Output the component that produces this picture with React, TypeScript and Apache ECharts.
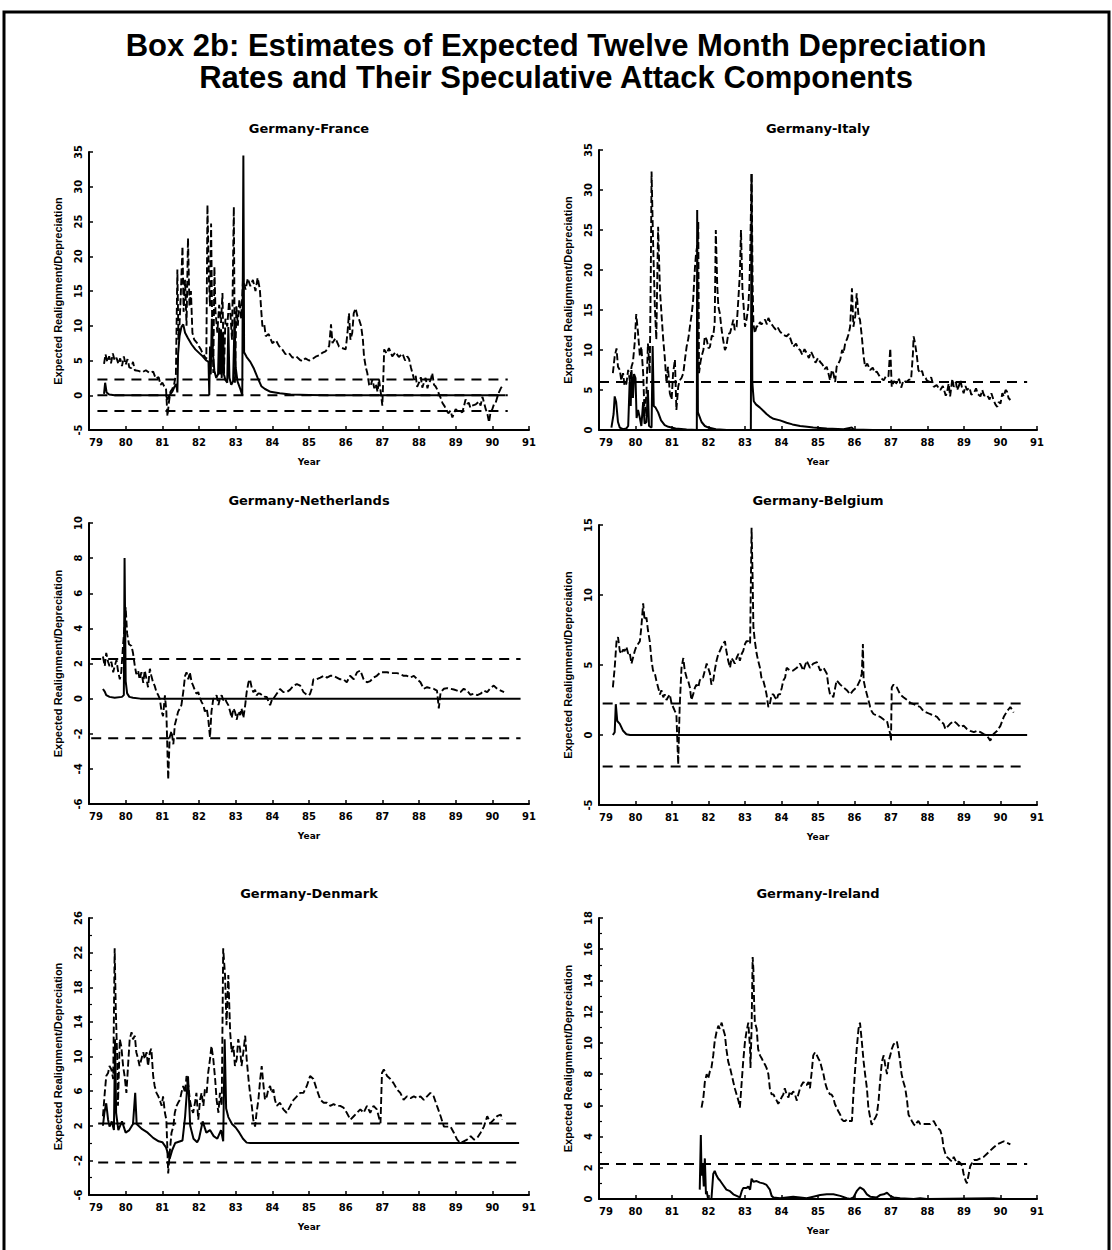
import React, { useEffect, useRef } from "react";
import * as echarts from "echarts";

// ---------- tick labels / categories ----------
const yearTicks = [79, 80, 81, 82, 83, 84, 85, 86, 87, 88, 89, 90, 91];
const panelTitles = ["Germany-France", "Germany-Italy", "Germany-Netherlands", "Germany-Belgium", "Germany-Denmark", "Germany-Ireland"];
const mainTitle = ["Box 2b: Estimates of Expected Twelve Month Depreciation", "Rates and Their Speculative Attack Components"];
const yName = "Expected Realignment/Depreciation";
const xName = "Year";

// ---------- France ----------
const franceExpected = [[79.41,4.5],[79.45,5.9],[79.5,4.8],[79.55,5.6],[79.6,4.6],[79.65,6.0],[79.7,5.0],[79.75,5.4],[79.8,4.5],[79.85,5.3],[79.9,4.2],[79.95,5.6],[80.0,4.4],[80.05,5.2],[80.1,4.0],[80.15,3.9],[80.2,4.8],[80.25,3.6],[80.35,3.5],[80.45,3.3],[80.55,3.6],[80.65,3.2],[80.75,3.4],[80.82,2.4],[80.9,2.6],[80.95,1.5],[81.0,1.8],[81.05,1.3],[81.1,1.0],[81.14,-3.0],[81.18,-1.0],[81.22,0.5],[81.27,0.9],[81.32,1.5],[81.37,3.0],[81.41,18.1],[81.44,8.0],[81.47,10.4],[81.5,14.0],[81.55,21.4],[81.58,12.0],[81.62,16.6],[81.66,10.0],[81.7,22.6],[81.74,12.8],[81.78,15.0],[81.82,9.0],[81.87,8.0],[81.95,7.5],[82.0,7.0],[82.05,6.6],[82.1,6.0],[82.15,5.6],[82.2,5.2],[82.23,27.4],[82.27,17.0],[82.3,12.8],[82.33,24.7],[82.36,10.0],[82.39,3.2],[82.42,18.5],[82.45,12.0],[82.5,9.0],[82.55,13.0],[82.6,10.4],[82.64,14.7],[82.68,3.2],[82.72,11.0],[82.77,9.9],[82.82,13.5],[82.86,11.4],[82.9,8.0],[82.95,27.1],[82.98,1.8],[83.02,12.8],[83.06,10.0],[83.1,13.8],[83.15,11.0],[83.2,16.6],[83.27,15.2],[83.33,16.8],[83.4,15.7],[83.47,16.6],[83.54,15.0],[83.6,16.9],[83.66,15.2],[83.7,12.0],[83.73,9.9],[83.78,10.2],[83.82,8.5],[83.9,8.8],[84.0,7.5],[84.1,7.9],[84.18,7.1],[84.27,6.6],[84.36,5.9],[84.45,6.1],[84.55,5.4],[84.65,5.6],[84.75,5.1],[84.82,4.9],[84.9,5.3],[85.0,5.0],[85.09,5.2],[85.2,5.6],[85.3,5.8],[85.36,6.1],[85.45,6.3],[85.55,7.1],[85.6,10.2],[85.64,7.5],[85.72,8.2],[85.82,7.0],[85.9,6.8],[86.0,6.6],[86.05,9.0],[86.09,11.8],[86.13,8.0],[86.18,9.0],[86.22,11.8],[86.27,12.5],[86.32,11.4],[86.36,11.0],[86.42,10.0],[86.47,8.0],[86.5,5.6],[86.55,4.0],[86.59,3.2],[86.64,1.5],[86.68,1.3],[86.73,2.3],[86.78,1.0],[86.82,1.6],[86.87,0.5],[86.91,2.3],[86.96,0.3],[87.0,-1.5],[87.03,3.0],[87.05,6.6],[87.12,6.0],[87.18,6.8],[87.27,5.6],[87.36,6.2],[87.45,5.5],[87.55,6.0],[87.62,5.0],[87.68,5.6],[87.73,5.2],[87.78,4.0],[87.82,3.2],[87.87,2.2],[87.91,2.8],[87.95,1.2],[88.0,1.8],[88.05,2.6],[88.09,1.1],[88.14,1.9],[88.18,2.5],[88.23,1.0],[88.27,1.8],[88.32,2.2],[88.36,3.2],[88.41,1.5],[88.45,1.3],[88.5,0.8],[88.55,0.1],[88.6,-0.5],[88.64,-1.1],[88.7,-1.6],[88.73,-2.0],[88.8,-2.6],[88.86,-2.2],[88.91,-3.2],[88.96,-2.5],[89.0,-2.0],[89.05,-2.3],[89.1,-2.1],[89.18,-2.5],[89.23,-1.5],[89.27,-0.6],[89.32,-1.2],[89.36,-1.1],[89.4,-1.8],[89.45,-1.5],[89.55,-1.3],[89.64,-0.9],[89.68,-1.5],[89.73,-0.2],[89.78,-1.2],[89.82,-2.0],[89.87,-2.8],[89.91,-3.9],[89.95,-2.5],[90.0,-2.0],[90.05,-1.2],[90.09,-1.1],[90.14,-0.2],[90.18,0.4],[90.23,1.0],[90.27,1.3]];
const franceAttack = [[79.41,0.2],[79.44,1.8],[79.48,0.4],[79.55,0.1],[79.7,0],[81.1,0],[81.14,-0.6],[81.2,0],[81.27,0.5],[81.33,1.2],[81.38,1.6],[81.41,0.4],[81.43,6.0],[81.47,8.5],[81.52,9.8],[81.57,10.2],[81.62,9.0],[81.7,8.2],[81.8,7.3],[81.9,6.6],[82.0,6.1],[82.1,5.6],[82.2,5.0],[82.26,4.8],[82.28,0],[82.3,7.0],[82.32,3.0],[82.35,11.0],[82.38,6.0],[82.42,3.5],[82.47,2.5],[82.52,3.0],[82.55,9.7],[82.57,3.0],[82.6,9.5],[82.62,2.5],[82.65,9.0],[82.68,3.0],[82.72,2.2],[82.77,1.8],[82.8,9.8],[82.83,2.5],[82.88,1.5],[82.93,2.0],[82.97,10.9],[83.0,4.0],[83.05,2.0],[83.12,1.0],[83.18,0],[83.21,34.5],[83.23,6.2],[83.3,5.5],[83.4,4.8],[83.5,3.8],[83.6,2.5],[83.7,1.3],[83.8,0.9],[83.95,0.5],[84.2,0.3],[84.5,0.1],[85.0,0.05],[85.5,0],[90.35,0]];
const franceBands = [2.25, 0, -2.25];
const franceBandSpan = [79.23, 90.42];

// ---------- Italy ----------
const italyExpected = [[79.38,7.1],[79.43,9.2],[79.48,10.2],[79.52,7.9],[79.57,7.5],[79.61,6.2],[79.66,7.1],[79.7,5.5],[79.75,5.8],[79.8,7.5],[79.85,6.0],[79.89,7.9],[79.93,8.5],[79.98,11.0],[80.02,14.5],[80.07,12.1],[80.12,9.2],[80.16,10.4],[80.21,7.1],[80.25,1.7],[80.3,4.6],[80.34,10.8],[80.39,7.1],[80.42,20.0],[80.44,32.3],[80.48,23.8],[80.53,15.4],[80.57,11.3],[80.62,25.4],[80.67,17.5],[80.71,14.6],[80.76,11.3],[80.8,9.2],[80.85,5.8],[80.89,7.9],[80.94,4.6],[80.99,3.8],[81.03,7.1],[81.08,8.8],[81.12,2.5],[81.17,5.4],[81.21,6.2],[81.26,6.5],[81.31,7.1],[81.36,9.0],[81.4,10.4],[81.45,11.5],[81.49,12.9],[81.54,14.5],[81.58,16.3],[81.63,20.4],[81.66,22.1],[81.7,23.3],[81.72,26.0],[81.74,7.1],[81.78,8.5],[81.81,9.2],[81.86,10.0],[81.9,11.7],[81.95,11.3],[82.0,10.2],[82.04,10.4],[82.09,11.8],[82.13,11.7],[82.17,13.5],[82.2,25.0],[82.24,18.0],[82.27,15.4],[82.31,14.6],[82.36,12.5],[82.4,11.3],[82.45,10.0],[82.49,10.4],[82.54,12.0],[82.59,12.1],[82.64,13.0],[82.68,13.8],[82.72,12.5],[82.77,12.9],[82.82,16.5],[82.86,19.6],[82.89,25.0],[82.93,17.5],[82.97,15.0],[83.0,12.9],[83.05,14.0],[83.09,15.4],[83.12,18.0],[83.14,21.3],[83.18,32.1],[83.21,18.0],[83.23,13.3],[83.27,12.1],[83.32,13.0],[83.36,12.9],[83.41,13.5],[83.45,13.2],[83.5,13.5],[83.55,13.8],[83.6,13.2],[83.64,14.0],[83.7,13.4],[83.78,12.9],[83.85,12.5],[83.9,12.8],[83.96,12.3],[84.05,11.9],[84.14,11.7],[84.2,12.0],[84.26,11.2],[84.32,10.4],[84.4,10.8],[84.45,10.2],[84.51,10.0],[84.57,9.4],[84.63,10.1],[84.69,9.6],[84.75,9.0],[84.81,9.8],[84.87,9.2],[84.93,8.4],[85.0,9.0],[85.06,8.5],[85.12,8.2],[85.18,7.6],[85.24,7.9],[85.3,6.8],[85.33,6.2],[85.38,7.5],[85.42,7.1],[85.47,6.0],[85.51,7.9],[85.56,8.3],[85.61,8.8],[85.66,10.0],[85.7,9.6],[85.75,11.0],[85.79,11.3],[85.84,12.0],[85.88,12.9],[85.93,17.7],[85.97,12.9],[86.02,14.2],[86.06,17.1],[86.11,14.2],[86.15,13.8],[86.2,11.7],[86.25,9.2],[86.29,7.9],[86.35,8.3],[86.43,7.5],[86.5,7.8],[86.55,7.2],[86.61,7.3],[86.7,6.6],[86.8,6.2],[86.87,6.8],[86.93,6.7],[86.98,10.2],[87.02,5.4],[87.08,6.1],[87.16,5.8],[87.22,6.4],[87.28,5.3],[87.34,6.2],[87.42,6.0],[87.5,6.3],[87.55,6.3],[87.6,9.5],[87.62,11.7],[87.66,10.8],[87.71,9.2],[87.75,7.5],[87.8,7.1],[87.85,7.4],[87.89,6.7],[87.95,6.5],[87.98,6.2],[88.05,6.0],[88.1,6.6],[88.17,5.4],[88.25,5.6],[88.35,5.0],[88.42,5.5],[88.5,4.3],[88.53,4.6],[88.58,5.8],[88.62,4.2],[88.68,6.4],[88.72,5.4],[88.78,6.0],[88.81,5.0],[88.86,5.5],[88.9,6.2],[88.95,5.2],[88.99,4.6],[89.04,5.5],[89.08,5.0],[89.15,5.3],[89.2,4.4],[89.27,4.6],[89.33,5.2],[89.38,4.5],[89.45,4.2],[89.5,5.0],[89.55,4.3],[89.63,4.4],[89.7,3.8],[89.75,4.6],[89.81,3.75],[89.86,3.2],[89.91,2.9],[89.95,3.5],[90.0,3.3],[90.05,4.6],[90.09,4.2],[90.14,5.0],[90.18,4.8],[90.22,4.0],[90.27,3.75]];
const italyAttack = [[79.34,0.3],[79.4,2.0],[79.43,4.2],[79.47,3.5],[79.52,1.0],[79.57,0.3],[79.66,0.1],[79.75,0.2],[79.8,0.5],[79.84,6.0],[79.87,3.0],[79.89,7.5],[79.93,4.0],[79.96,7.0],[80.0,6.5],[80.03,1.5],[80.07,2.5],[80.12,1.5],[80.16,0.5],[80.21,3.5],[80.25,0.8],[80.3,1.0],[80.34,5.0],[80.37,0.5],[80.44,0.3],[80.47,10.5],[80.5,3.0],[80.55,2.8],[80.62,2.2],[80.7,1.2],[80.8,0.6],[80.9,0.4],[81.1,0.2],[81.4,0.05],[81.68,0],[81.69,27.5],[81.71,2.2],[81.76,1.6],[81.81,1.0],[81.9,0.5],[82.0,0.3],[82.2,0.1],[82.5,0],[83.16,0],[83.18,32.0],[83.2,6.0],[83.24,3.6],[83.3,3.2],[83.41,2.8],[83.5,2.4],[83.59,2.0],[83.7,1.6],[83.78,1.4],[83.96,1.2],[84.14,0.9],[84.3,0.7],[84.51,0.5],[84.7,0.4],[84.87,0.3],[85.24,0.2],[85.7,0.1],[85.93,0.3],[85.98,0.05],[86.5,0],[90.9,0]];
const italyBands = [6];
const italyBandSpan = [79.0, 90.73];

// ---------- Netherlands ----------
const netherlandsExpected = [[79.38,2.4],[79.43,1.85],[79.47,2.6],[79.52,2.1],[79.56,1.85],[79.61,2.1],[79.66,1.5],[79.7,1.85],[79.75,2.2],[79.79,1.6],[79.84,1.1],[79.88,1.5],[79.93,3.1],[79.97,4.1],[80.0,5.2],[80.04,3.7],[80.09,3.1],[80.16,3.0],[80.2,2.6],[80.25,1.85],[80.29,1.4],[80.34,1.6],[80.38,1.1],[80.43,1.5],[80.48,0.9],[80.52,1.6],[80.57,1.1],[80.61,0.65],[80.66,1.7],[80.7,1.3],[80.75,0.9],[80.79,0.74],[80.84,0.37],[80.89,0.19],[80.93,0],[80.98,-0.74],[81.02,-1.0],[81.07,0.19],[81.11,-0.74],[81.16,-4.6],[81.2,-2.2],[81.25,-1.85],[81.3,-2.6],[81.34,-1.5],[81.39,-1.1],[81.43,-0.74],[81.48,-0.56],[81.52,-0.37],[81.57,0.37],[81.62,1.3],[81.66,1.5],[81.71,1.1],[81.75,1.5],[81.8,0.93],[81.84,0.74],[81.89,0.46],[81.93,0.28],[81.98,0.37],[82.03,0],[82.07,-0.19],[82.12,-0.37],[82.16,-0.74],[82.21,-0.56],[82.25,-1.1],[82.3,-2.2],[82.34,-0.74],[82.39,0],[82.44,0.09],[82.48,0.19],[82.53,-0.37],[82.57,0],[82.62,0.19],[82.66,-0.09],[82.71,0],[82.75,-0.19],[82.8,-0.37],[82.85,-0.74],[82.89,-1.1],[82.94,-0.56],[82.98,-0.74],[83.03,-1.2],[83.07,-0.74],[83.12,-0.93],[83.16,-0.56],[83.21,-1.1],[83.26,-0.37],[83.3,0.37],[83.35,0.93],[83.39,1.1],[83.44,0.6],[83.48,0.37],[83.53,0.5],[83.57,0.19],[83.62,0.3],[83.67,0.28],[83.72,0.2],[83.76,0.19],[83.8,0.1],[83.85,0.09],[83.9,-0.2],[83.94,-0.37],[84.0,0],[84.03,0],[84.12,0.28],[84.21,0.55],[84.3,0.37],[84.39,0.37],[84.48,0.5],[84.58,0.74],[84.67,0.83],[84.76,0.74],[84.85,0.37],[84.94,0.22],[85.0,0.19],[85.03,0.28],[85.08,0.6],[85.12,1.1],[85.2,1.1],[85.31,1.2],[85.4,1.3],[85.49,1.2],[85.58,1.3],[85.67,1.3],[85.76,1.2],[85.85,1.1],[85.94,1.1],[86.03,0.93],[86.12,1.3],[86.22,1.1],[86.31,1.5],[86.4,1.6],[86.49,1.1],[86.58,0.93],[86.67,1.0],[86.76,1.2],[86.85,1.3],[86.95,1.5],[87.04,1.5],[87.13,1.5],[87.22,1.45],[87.31,1.45],[87.4,1.45],[87.49,1.4],[87.58,1.3],[87.67,1.3],[87.76,1.2],[87.86,1.3],[87.95,1.1],[88.04,0.93],[88.13,0.56],[88.22,0.65],[88.31,0.6],[88.4,0.56],[88.49,0.46],[88.54,-0.55],[88.59,0.37],[88.68,0.56],[88.77,0.6],[88.86,0.56],[88.95,0.52],[89.04,0.46],[89.13,0.37],[89.22,0.56],[89.31,0.46],[89.4,0.22],[89.5,0.28],[89.59,0.2],[89.68,0.28],[89.77,0.46],[89.86,0.37],[89.95,0.6],[90.04,0.74],[90.13,0.56],[90.23,0.46],[90.32,0.37]];
const netherlandsAttack = [[79.38,0.55],[79.43,0.4],[79.47,0.2],[79.56,0.1],[79.7,0.05],[79.9,0.1],[79.95,0.2],[79.97,8.0],[80.0,1.0],[80.04,0.3],[80.1,0.1],[80.2,0.05],[80.4,0],[90.77,0]];
const netherlandsBands = [2.25, -2.25];
const netherlandsBandSpan = [79.06, 90.77];

// ---------- Belgium ----------
const belgiumExpected = [[79.38,3.4],[79.43,4.8],[79.48,6.7],[79.52,7.0],[79.57,6.0],[79.61,5.8],[79.66,6.1],[79.7,6.0],[79.75,6.3],[79.8,5.8],[79.84,5.9],[79.89,5.1],[79.93,5.5],[79.98,6.0],[80.02,6.3],[80.07,6.5],[80.12,6.7],[80.16,7.7],[80.21,9.4],[80.25,8.2],[80.3,8.4],[80.34,7.5],[80.39,6.7],[80.44,5.3],[80.48,4.6],[80.53,4.4],[80.57,3.9],[80.62,3.4],[80.67,2.9],[80.71,3.2],[80.76,2.7],[80.8,2.9],[80.85,2.5],[80.89,2.7],[80.94,2.9],[80.99,2.2],[81.03,2.0],[81.08,1.7],[81.12,1.5],[81.17,-2.1],[81.21,2.0],[81.26,4.8],[81.31,5.5],[81.35,4.6],[81.4,4.1],[81.44,3.9],[81.49,3.4],[81.53,2.5],[81.58,2.9],[81.63,3.4],[81.67,3.6],[81.72,3.4],[81.76,3.9],[81.81,4.1],[81.85,4.1],[81.9,4.6],[81.95,5.1],[81.99,4.8],[82.04,4.4],[82.08,3.6],[82.13,3.9],[82.17,4.6],[82.22,5.3],[82.27,5.8],[82.31,6.0],[82.36,6.3],[82.4,6.5],[82.45,6.7],[82.49,6.0],[82.54,5.3],[82.59,4.8],[82.63,5.5],[82.68,5.3],[82.72,5.1],[82.77,5.5],[82.82,5.8],[82.86,5.3],[82.91,5.8],[82.95,6.0],[83.0,6.5],[83.04,6.7],[83.09,6.7],[83.14,6.5],[83.18,14.8],[83.21,11.0],[83.23,7.7],[83.27,6.7],[83.32,5.8],[83.36,5.3],[83.41,4.8],[83.45,4.1],[83.5,3.9],[83.55,3.4],[83.59,2.9],[83.64,2.0],[83.68,2.2],[83.73,2.9],[83.78,2.9],[83.82,2.7],[83.87,2.5],[83.91,2.9],[83.96,2.9],[84.01,3.4],[84.05,3.9],[84.1,4.1],[84.14,4.8],[84.23,4.6],[84.32,4.6],[84.42,4.8],[84.51,5.1],[84.6,4.6],[84.69,5.3],[84.78,4.8],[84.87,5.1],[84.97,5.2],[85.06,4.6],[85.15,4.8],[85.24,4.4],[85.29,3.4],[85.33,2.9],[85.38,2.9],[85.42,2.7],[85.51,3.9],[85.61,3.6],[85.7,3.4],[85.79,3.2],[85.88,2.9],[85.97,3.2],[86.06,3.4],[86.15,3.9],[86.2,4.4],[86.23,6.5],[86.25,3.9],[86.29,3.4],[86.34,2.9],[86.38,2.5],[86.43,2.0],[86.47,1.7],[86.52,1.5],[86.61,1.4],[86.7,1.3],[86.8,1.1],[86.89,1.0],[86.93,0.55],[86.98,0.07],[87.0,-0.4],[87.02,3.4],[87.07,3.6],[87.16,3.4],[87.25,2.9],[87.34,2.7],[87.44,2.5],[87.53,2.3],[87.62,2.2],[87.71,2.1],[87.8,2.0],[87.89,1.7],[87.98,1.6],[88.07,1.5],[88.17,1.4],[88.26,1.3],[88.35,1.0],[88.44,0.8],[88.49,0.43],[88.53,0.55],[88.62,0.8],[88.72,1.0],[88.81,0.8],[88.9,0.55],[88.99,0.67],[89.08,0.43],[89.17,0.3],[89.27,0.2],[89.36,0.3],[89.45,0.2],[89.54,0.07],[89.63,-0.05],[89.72,-0.4],[89.81,0.07],[89.91,0.3],[90.0,0.67],[90.09,1.3],[90.18,1.7],[90.27,2.0],[90.36,1.6]];
const belgiumAttack = [[79.38,0],[79.43,0.2],[79.46,2.2],[79.5,1.0],[79.57,0.8],[79.66,0.3],[79.75,0.05],[79.85,0],[90.73,0]];
const belgiumBands = [2.25, -2.25];
const belgiumBandSpan = [79.1, 90.73];

// ---------- Denmark ----------
const denmarkExpected = [[79.38,3.1],[79.43,5.8],[79.47,7.75],[79.52,8.1],[79.56,8.9],[79.61,8.5],[79.66,7.4],[79.7,22.5],[79.73,15.5],[79.77,9.7],[79.79,4.3],[79.84,12.0],[79.88,11.2],[79.93,8.9],[79.97,7.75],[80.02,5.8],[80.07,9.3],[80.11,12.0],[80.16,12.8],[80.2,12.0],[80.25,12.4],[80.29,10.5],[80.34,9.7],[80.38,8.9],[80.43,9.7],[80.48,10.5],[80.52,9.7],[80.57,10.5],[80.61,8.9],[80.66,10.5],[80.7,10.9],[80.75,7.75],[80.79,6.6],[80.84,5.8],[80.89,5.4],[80.93,5.0],[80.98,4.3],[81.02,5.4],[81.07,3.5],[81.11,2.7],[81.16,-3.5],[81.2,-1.2],[81.25,1.2],[81.3,1.9],[81.34,3.5],[81.39,4.3],[81.43,4.65],[81.48,5.0],[81.52,5.8],[81.57,6.6],[81.62,5.8],[81.66,7.75],[81.71,6.6],[81.75,5.0],[81.8,3.9],[81.84,3.5],[81.89,4.65],[81.93,5.8],[81.98,2.7],[82.03,5.0],[82.07,5.8],[82.12,4.3],[82.16,6.2],[82.21,5.8],[82.25,8.1],[82.3,9.7],[82.34,11.2],[82.39,9.7],[82.44,7.4],[82.48,5.0],[82.53,3.5],[82.57,5.8],[82.62,4.3],[82.66,22.5],[82.71,19.4],[82.75,13.6],[82.8,19.4],[82.85,12.8],[82.89,10.5],[82.94,11.2],[82.98,8.9],[83.03,9.7],[83.07,12.0],[83.12,10.9],[83.16,8.9],[83.21,10.5],[83.26,12.4],[83.3,9.7],[83.35,7.4],[83.39,5.8],[83.44,4.3],[83.48,2.7],[83.53,1.9],[83.57,3.5],[83.62,5.0],[83.67,7.4],[83.71,8.9],[83.76,6.6],[83.8,5.0],[83.85,5.4],[83.89,6.2],[83.94,6.6],[83.98,5.8],[84.03,6.2],[84.07,5.0],[84.12,4.3],[84.21,4.65],[84.3,3.9],[84.39,3.5],[84.49,4.3],[84.58,5.0],[84.67,5.4],[84.76,5.8],[84.85,5.8],[84.94,6.6],[85.03,7.75],[85.12,7.4],[85.21,6.2],[85.31,5.0],[85.4,4.65],[85.49,4.65],[85.58,4.3],[85.67,4.5],[85.76,4.3],[85.85,4.3],[85.94,4.1],[86.03,3.5],[86.13,2.7],[86.22,3.1],[86.31,3.5],[86.4,3.9],[86.49,3.5],[86.58,4.3],[86.67,3.5],[86.76,4.3],[86.85,3.9],[86.95,2.3],[86.99,8.1],[87.04,8.5],[87.13,7.75],[87.22,7.4],[87.31,6.9],[87.4,6.2],[87.49,5.8],[87.58,5.0],[87.67,5.4],[87.77,5.2],[87.86,5.4],[87.95,5.2],[88.04,5.4],[88.13,5.0],[88.22,5.4],[88.31,5.8],[88.4,5.4],[88.49,4.3],[88.59,3.1],[88.68,1.9],[88.77,1.9],[88.86,1.9],[88.95,1.2],[89.04,0.4],[89.13,0.0],[89.22,0.2],[89.31,0.4],[89.41,0.8],[89.5,0.4],[89.59,0.6],[89.68,1.2],[89.77,1.9],[89.86,3.1],[89.95,2.3],[90.04,2.7],[90.13,3.1],[90.23,3.3],[90.27,2.7]];
const denmarkAttack = [[79.38,2.0],[79.42,3.5],[79.47,4.6],[79.52,2.7],[79.56,1.9],[79.62,2.5],[79.68,1.5],[79.71,12.0],[79.74,3.5],[79.8,1.5],[79.9,2.5],[80.0,1.2],[80.1,1.5],[80.2,2.2],[80.26,5.8],[80.3,2.2],[80.45,1.6],[80.6,1.2],[80.75,0.6],[80.9,0.2],[81.0,0.1],[81.1,-0.5],[81.2,-1.8],[81.27,-0.8],[81.35,0],[81.55,0.3],[81.62,3.0],[81.7,7.7],[81.76,2.0],[81.85,0.5],[81.95,0.1],[82.0,0.5],[82.1,2.5],[82.2,1.2],[82.3,1.5],[82.4,0.8],[82.5,0.5],[82.6,1.5],[82.66,0.2],[82.7,12.0],[82.74,4.0],[82.8,3.0],[82.9,2.2],[83.0,1.8],[83.1,1.2],[83.2,0.5],[83.3,0.05],[83.4,0],[90.73,0]];
const denmarkBands = [2.25, -2.25];
const denmarkBandSpan = [79.25, 90.73];

// ---------- Ireland ----------
const irelandExpected = [[81.81,5.85],[81.86,6.5],[81.9,7.5],[81.95,8.0],[81.99,7.7],[82.04,8.2],[82.08,8.4],[82.13,9.2],[82.17,10.1],[82.22,10.7],[82.27,11.1],[82.31,10.9],[82.36,11.3],[82.4,10.9],[82.45,10.5],[82.49,9.6],[82.54,8.8],[82.59,8.4],[82.63,8.0],[82.68,7.5],[82.72,7.1],[82.77,6.7],[82.82,6.3],[82.86,5.85],[82.91,7.5],[82.95,8.8],[83.0,10.1],[83.04,10.7],[83.09,11.3],[83.14,9.6],[83.15,8.4],[83.18,10.9],[83.21,15.5],[83.23,14.7],[83.25,12.6],[83.27,11.3],[83.32,10.9],[83.36,9.6],[83.41,9.2],[83.46,9.0],[83.5,8.8],[83.55,8.6],[83.59,8.4],[83.64,8.0],[83.68,7.1],[83.73,6.7],[83.78,6.7],[83.82,6.5],[83.87,6.3],[83.91,6.1],[83.96,6.3],[84.0,6.5],[84.05,6.7],[84.09,7.1],[84.14,6.7],[84.19,6.5],[84.23,6.9],[84.28,6.7],[84.32,6.9],[84.37,6.7],[84.42,6.3],[84.46,6.7],[84.51,7.1],[84.55,7.3],[84.6,7.5],[84.65,7.3],[84.69,7.3],[84.74,7.5],[84.78,7.1],[84.83,8.2],[84.87,9.2],[84.92,9.4],[84.97,9.2],[85.01,9.0],[85.06,8.8],[85.1,8.4],[85.15,8.0],[85.19,7.5],[85.24,7.1],[85.28,6.9],[85.33,6.7],[85.37,6.7],[85.42,6.5],[85.46,6.1],[85.51,5.85],[85.56,5.6],[85.61,5.4],[85.65,5.1],[85.7,5.0],[85.75,5.0],[85.79,5.1],[85.84,5.0],[85.88,5.0],[85.93,5.0],[85.97,6.7],[86.02,8.4],[86.06,9.6],[86.11,10.9],[86.15,11.3],[86.2,10.1],[86.25,8.8],[86.29,8.0],[86.34,7.1],[86.38,5.85],[86.43,5.2],[86.47,4.75],[86.52,5.0],[86.57,5.2],[86.61,5.4],[86.66,6.3],[86.7,7.5],[86.75,8.8],[86.8,9.2],[86.84,8.6],[86.89,8.0],[86.93,8.8],[86.98,9.2],[87.02,9.6],[87.07,9.9],[87.11,10.0],[87.16,10.1],[87.2,9.6],[87.25,8.8],[87.29,8.0],[87.34,7.5],[87.39,7.1],[87.44,6.3],[87.48,5.4],[87.53,5.2],[87.57,5.0],[87.62,4.8],[87.66,4.7],[87.71,4.9],[87.75,5.0],[87.8,4.8],[87.89,4.8],[87.98,4.8],[88.07,4.8],[88.17,5.0],[88.26,4.6],[88.35,4.4],[88.4,4.0],[88.44,3.3],[88.49,2.9],[88.53,2.7],[88.58,2.6],[88.62,2.5],[88.67,2.4],[88.72,2.7],[88.76,2.5],[88.81,2.3],[88.86,2.4],[88.9,2.3],[88.95,2.1],[88.99,1.6],[89.04,1.2],[89.08,1.0],[89.13,1.6],[89.17,2.1],[89.22,2.3],[89.27,2.5],[89.36,2.5],[89.45,2.6],[89.54,2.7],[89.63,2.9],[89.72,3.1],[89.81,3.3],[89.91,3.5],[90.0,3.6],[90.09,3.7],[90.18,3.6],[90.27,3.5]];
const irelandAttack = [[81.76,0.6],[81.79,4.1],[81.81,1.5],[81.84,2.2],[81.87,0.8],[81.9,2.6],[81.93,0.3],[81.95,0.5],[81.99,0],[82.08,0],[82.13,1.6],[82.17,1.8],[82.22,1.5],[82.27,1.3],[82.31,1.2],[82.4,0.9],[82.49,0.6],[82.59,0.5],[82.68,0.3],[82.77,0.2],[82.86,0.1],[82.91,0.5],[82.95,0.7],[83.04,0.7],[83.09,0.8],[83.14,0.6],[83.18,1.3],[83.23,1.1],[83.32,1.15],[83.41,1.05],[83.5,1.0],[83.59,0.9],[83.68,0.6],[83.73,0.2],[83.78,0.1],[83.96,0.05],[84.14,0.1],[84.32,0.15],[84.51,0.1],[84.69,0.05],[84.87,0.15],[85.06,0.25],[85.24,0.3],[85.42,0.3],[85.61,0.2],[85.79,0.05],[85.88,0],[85.97,0.1],[86.06,0.5],[86.15,0.75],[86.25,0.6],[86.34,0.3],[86.43,0.15],[86.61,0.1],[86.7,0.25],[86.8,0.3],[86.89,0.4],[86.98,0.2],[87.07,0.1],[87.25,0.05],[87.62,0],[87.8,0.05],[87.98,0],[89.81,0.05],[90.0,0.02],[90.27,0]];
const irelandBands = [2.25];
const irelandBandSpan = [79.0, 90.73];

// ---------- axis ranges ----------
const yRanges = [
  { min: -5, max: 35, interval: 5, minor: false },
  { min: 0, max: 35, interval: 5, minor: false },
  { min: -6, max: 10, interval: 2, minor: false },
  { min: -5, max: 15, interval: 5, minor: false },
  { min: -6, max: 26, interval: 4, minor: true },
  { min: 0, max: 18, interval: 2, minor: true },
];

const FONT = '"DejaVu Sans", "Liberation Sans", sans-serif';

export default function App() {
  const ref = useRef<HTMLDivElement>(null);

  useEffect(() => {
    if (!ref.current) return;
    const chart = echarts.init(ref.current, undefined, { renderer: "svg" });

    const panels = [
      { exp: franceExpected, atk: franceAttack, bands: franceBands, span: franceBandSpan, grid: { left: 89, top: 152, width: 440, height: 278 } },
      { exp: italyExpected, atk: italyAttack, bands: italyBands, span: italyBandSpan, grid: { left: 599, top: 150, width: 438, height: 280 } },
      { exp: netherlandsExpected, atk: netherlandsAttack, bands: netherlandsBands, span: netherlandsBandSpan, grid: { left: 89, top: 523, width: 440, height: 281 } },
      { exp: belgiumExpected, atk: belgiumAttack, bands: belgiumBands, span: belgiumBandSpan, grid: { left: 599, top: 525, width: 438, height: 280 } },
      { exp: denmarkExpected, atk: denmarkAttack, bands: denmarkBands, span: denmarkBandSpan, grid: { left: 89, top: 918, width: 440, height: 277 } },
      { exp: irelandExpected, atk: irelandAttack, bands: irelandBands, span: irelandBandSpan, grid: { left: 599, top: 918, width: 438, height: 281 } },
    ];
    const titleY = [128, 128, 500, 500, 893, 893];

    const grids: any[] = [];
    const xAxes: any[] = [];
    const yAxes: any[] = [];
    const series: any[] = [];
    const graphics: any[] = [];

    graphics.push({
      type: "rect",
      shape: { x: 4, y: 12, width: 1105, height: 1260 },
      style: { fill: "none", stroke: "#000", lineWidth: 3 },
      silent: true,
    });
    mainTitle.forEach((t, i) => {
      graphics.push({
        type: "text",
        x: 556,
        y: 45 + i * 32,
        style: { text: t, fill: "#000", font: 'bold 31px "Liberation Sans", Arial, sans-serif', align: "center", verticalAlign: "middle" },
        silent: true,
      });
    });

    panels.forEach((p, i) => {
      const r = yRanges[i];
      grids.push({ ...p.grid, containLabel: false });
      graphics.push({
        type: "text",
        x: p.grid.left + p.grid.width / 2,
        y: titleY[i],
        style: { text: panelTitles[i], fill: "#000", font: `bold 13px ${FONT}`, align: "center", verticalAlign: "middle" },
        silent: true,
      });
      xAxes.push({
        gridIndex: i,
        type: "value",
        min: 79,
        max: 91,
        interval: 1,
        name: xName,
        nameLocation: "middle",
        nameGap: 27,
        nameTextStyle: { color: "#000", fontSize: 9, fontWeight: "bold", fontFamily: FONT },
        axisLine: { show: true, onZero: false, lineStyle: { color: "#000", width: 2 } },
        axisTick: { show: true, inside: true, length: 4, lineStyle: { color: "#000", width: 1.5 } },
        axisLabel: {
          color: "#000", fontSize: 10, fontWeight: "bold", fontFamily: FONT, margin: 7,
          showMinLabel: true, showMaxLabel: true, alignMinLabel: "left",
          formatter: (v: number) => (yearTicks.includes(Math.round(v)) ? String(Math.round(v)) : ""),
        },
        splitLine: { show: false },
      });
      yAxes.push({
        gridIndex: i,
        type: "value",
        min: r.min,
        max: r.max,
        interval: r.interval,
        name: yName,
        nameLocation: "middle",
        nameGap: 26,
        nameTextStyle: { color: "#000", fontSize: 11, fontWeight: "bold", fontFamily: '"Liberation Sans", Arial, sans-serif' },
        axisLine: { show: true, onZero: false, lineStyle: { color: "#000", width: 2 } },
        axisTick: { show: true, inside: true, length: 4, lineStyle: { color: "#000", width: 1.5 } },
        minorTick: { show: r.minor, splitNumber: 2, length: 3, lineStyle: { color: "#000", width: 1.2 } },
        axisLabel: { color: "#000", fontSize: 10, fontWeight: "bold", fontFamily: FONT, rotate: 90, margin: 6 },
        splitLine: { show: false },
      });
      p.bands.forEach((b) => {
        series.push({
          type: "line",
          xAxisIndex: i,
          yAxisIndex: i,
          data: [[p.span[0], b], [p.span[1], b]],
          showSymbol: false,
          silent: true,
          lineStyle: { color: "#000", width: 2, type: [10, 7] },
          z: 2,
        });
      });
      series.push({
        type: "line",
        xAxisIndex: i,
        yAxisIndex: i,
        data: p.exp,
        showSymbol: false,
        silent: true,
        lineStyle: { color: "#000", width: 1.9, type: [7, 3] },
        z: 3,
      });
      series.push({
        type: "line",
        xAxisIndex: i,
        yAxisIndex: i,
        data: p.atk,
        showSymbol: false,
        silent: true,
        lineStyle: { color: "#000", width: 2 },
        z: 4,
      });
    });

    chart.setOption({
      animation: false,
      backgroundColor: "#fff",
      grid: grids,
      xAxis: xAxes,
      yAxis: yAxes,
      series,
      graphic: graphics,
    });

    return () => chart.dispose();
  }, []);

  return <div ref={ref} style={{ position: "absolute", left: 0, top: 0, width: 1112, height: 1250, background: "#fff" }} />;
}
